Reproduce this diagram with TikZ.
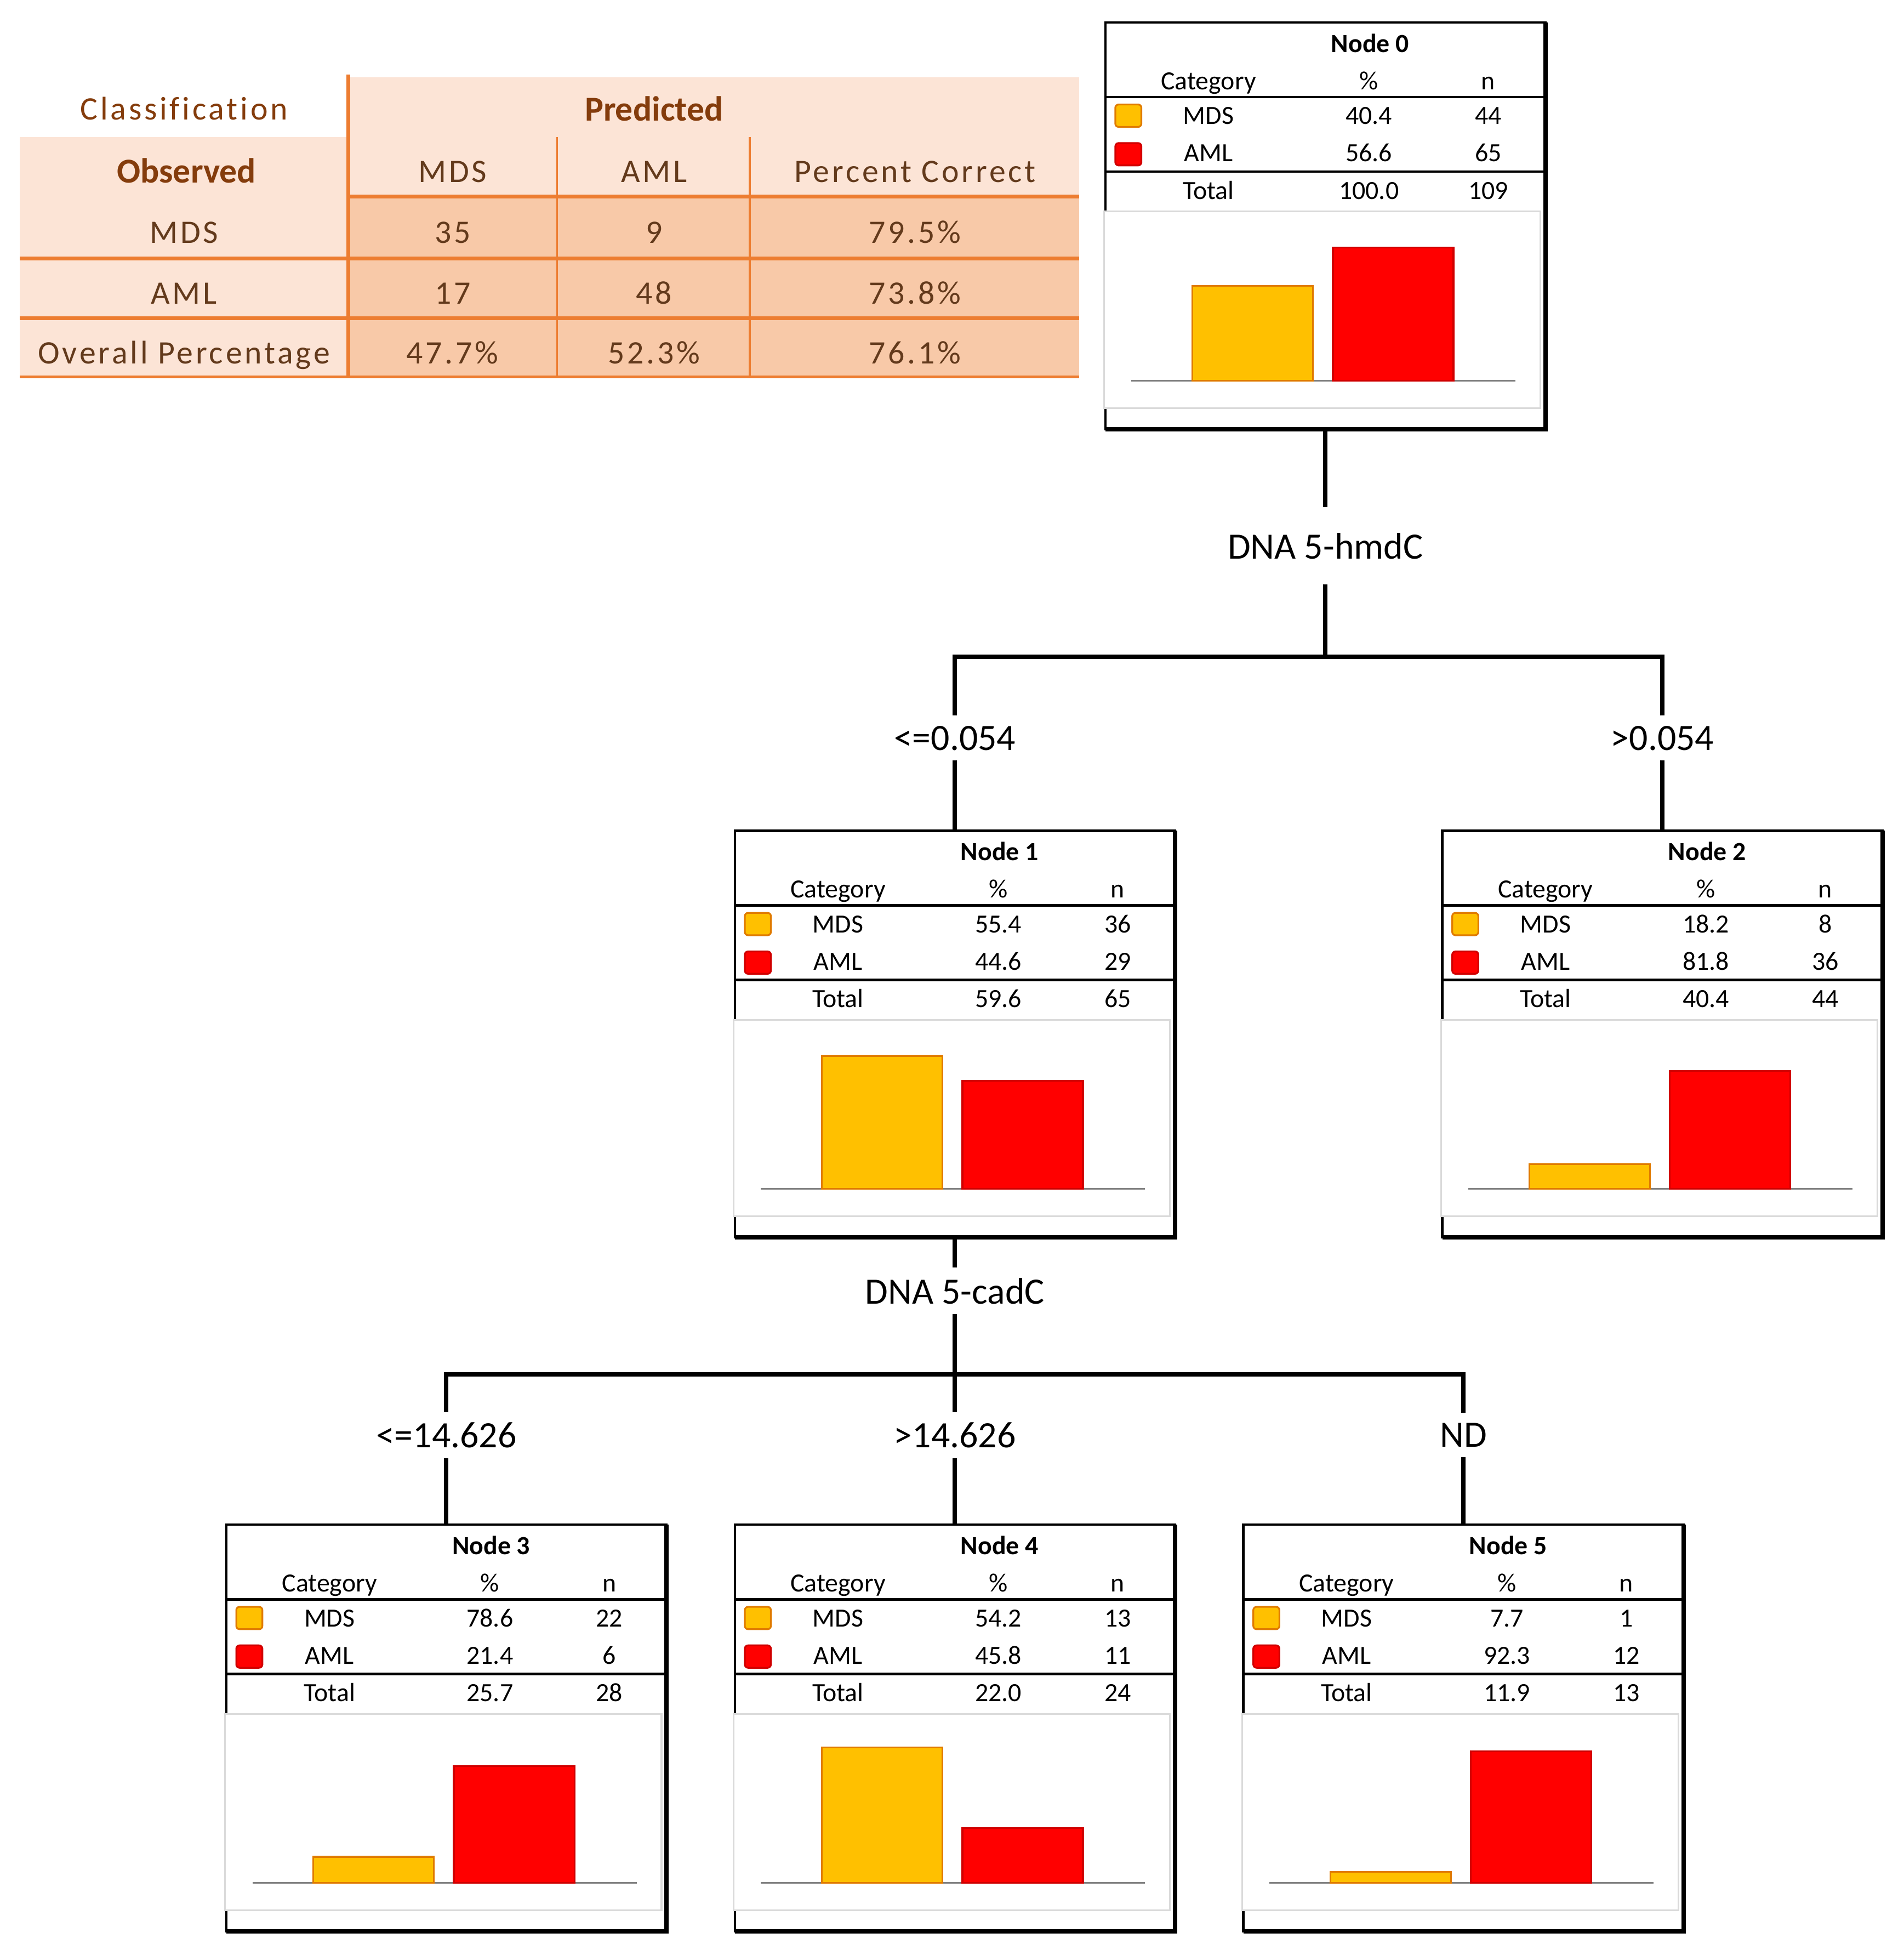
\documentclass[tikz,border=0pt]{standalone}
\usepackage{fontspec}
\setmainfont{Carlito}
\newfontfamily\tabfont[LetterSpace=8, Ligatures=NoCommon]{Carlito}
\usepackage{tikz}

\definecolor{mdsfill}{HTML}{FFC000}
\definecolor{mdsedge}{HTML}{E07B00}
\definecolor{amlfill}{HTML}{FF0000}
\definecolor{amledge}{HTML}{D00000}
\definecolor{peachlight}{HTML}{FCE4D6}
\definecolor{peachdark}{HTML}{F8C9A8}
\definecolor{tabline}{HTML}{ED7D31}
\definecolor{headbrown}{HTML}{843C0C}
\definecolor{textbrown}{HTML}{633A1C}
\definecolor{panelgray}{HTML}{DADADA}

\tikzset{
  treebox/.style={draw, line width=1.1pt, fill=white, minimum width=7.08cm,
    minimum height=6.54cm, inner sep=0pt, outer sep=0pt},
  nodetxt/.style={font=\fontsize{12}{14}\selectfont, anchor=base, inner sep=0pt},
  nodetitle/.style={nodetxt, font=\fontsize{12}{14}\selectfont\bfseries},
  splitlabel/.style={font=\fontsize{17}{20}\selectfont, inner xsep=2pt, inner ysep=4.5pt},
  link/.style={line width=2pt},
  tabcell/.style={font=\tabfont\fontsize{15}{18}\selectfont, text=textbrown,
    anchor=base, inner sep=0pt},
  tabhead/.style={font=\bfseries\fontsize{16}{19}\selectfont, text=headbrown,
    anchor=base, inner sep=0pt},
  mdsbar/.style={fill=mdsfill, draw=mdsedge, line width=0.8pt},
  amlbar/.style={fill=amlfill, draw=amledge, line width=0.8pt},
}

% table of one tree node: name, title, MDS %, n, AML %, n, total %, n
\newcommand{\treestats}[8]{%
  \begin{scope}[shift={(#1.north west)}]
    \node[nodetitle] (#1-title) at (213,24) {#2};
    \node[nodetxt] (#1-cat) at (83,54) {Category};
    \node[nodetxt] (#1-pct) at (212,54) {\%};
    \node[nodetxt] (#1-n) at (308,54) {n};
    \draw[line width=1.1pt] (0,60) -- (354,60) (0,120) -- (354,120);
    % MDS row
    \draw[mdsbar, rounded corners=1.5pt] (8,66) rectangle (29,84);
    \node[nodetxt] (#1-mds) at (83,82) {MDS};
    \node[nodetxt] (#1-mdsp) at (212,82) {#3};
    \node[nodetxt] (#1-mdsn) at (308,82) {#4};
    % AML row
    \draw[amlbar, rounded corners=1.5pt] (8,97) rectangle (29,115);
    \node[nodetxt] (#1-aml) at (83,112) {AML};
    \node[nodetxt] (#1-amlp) at (212,112) {#5};
    \node[nodetxt] (#1-amln) at (308,112) {#6};
    % total row
    \node[nodetxt] (#1-tot) at (83,142) {Total};
    \node[nodetxt] (#1-totp) at (212,142) {#7};
    \node[nodetxt] (#1-totn) at (308,142) {#8};
  \end{scope}}

% bar chart of one tree node: name, MDS bar height, AML bar height
\newcommand{\treebars}[3]{%
  \begin{scope}[shift={(#1.north west)}]
    \draw[panelgray, fill=white, line width=0.8pt] (-1,152) rectangle (350,310);
    \draw[gray, line width=0.8pt] (21,288) -- (330,288);
    \draw[mdsbar] (70,288) rectangle (167,{288-#2});
    \draw[amlbar] (183,288) rectangle (280,{288-#3});
    \draw[line width=2pt] (354,0) -- (354,327) -- (0,327);
  \end{scope}}

\begin{document}
\begin{tikzpicture}[x=0.02cm, y=-0.02cm]
  \fill[white] (0,0) rectangle (1531,1568);

  % Classification table
  \fill[peachlight] (280,62) rectangle (868,158);
  \fill[peachlight] (16,110) rectangle (280,303);
  \fill[peachdark] (280,158) rectangle (868,303);
  \draw[tabline, line width=1.8pt] (280,60) -- (280,303);
  \draw[tabline, line width=0.9pt] (448,110) -- (448,303) (603,110) -- (603,303);
  \draw[tabline, line width=1.8pt] (280,158) -- (868,158);
  \draw[tabline, line width=1.8pt] (16,208) -- (868,208) (16,256) -- (868,256);
  \draw[tabline, line width=1.1pt] (16,303) -- (868,303);

  \node[tabcell, text=headbrown] (tcls) at (148,96.5) {Classification};
  \node[tabhead] (tpred) at (526,97) {Predicted};
  \node[tabhead] (tobs) at (150,147) {Observed};
  \node[tabcell] (tmds) at (364,146.5) {MDS};
  \node[tabcell] (taml) at (526,146.5) {AML};
  \node[tabcell] (tpc) at (736,146.5) {Percent Correct};
  \foreach \rname/\ry/\rlab/\va/\vb/\vc in {
      rmds/187/MDS/35/9/79.5\%,
      raml/236/AML/17/48/73.8\%,
      rall/284/Overall Percentage/47.7\%/52.3\%/76.1\%}{
    \node[tabcell] (\rname-lab) at (148,{\ry+8.5}) {\rlab};
    \node[tabcell] (\rname-mds) at (364,{\ry+8.5}) {\va};
    \node[tabcell] (\rname-aml) at (526,{\ry+8.5}) {\vb};
    \node[tabcell] (\rname-pc) at (736,{\ry+8.5}) {\vc};
  }

  % Tree nodes
  \node[treebox] (n0) at (1066,181.5) {};
  \node[treebox] (n1) at (768,831.5) {};
  \node[treebox] (n2) at (1337,831.5) {};
  \node[treebox] (n3) at (359,1389.5) {};
  \node[treebox] (n4) at (768,1389.5) {};
  \node[treebox] (n5) at (1177,1389.5) {};

  \treestats{n0}{Node 0}{40.4}{44}{56.6}{65}{100.0}{109}
  \treebars{n0}{76}{107}
  \treestats{n1}{Node 1}{55.4}{36}{44.6}{29}{59.6}{65}
  \treebars{n1}{107}{87}
  \treestats{n2}{Node 2}{18.2}{8}{81.8}{36}{40.4}{44}
  \treebars{n2}{20}{95}
  \treestats{n3}{Node 3}{78.6}{22}{21.4}{6}{25.7}{28}
  \treebars{n3}{21}{94}
  \treestats{n4}{Node 4}{54.2}{13}{45.8}{11}{22.0}{24}
  \treebars{n4}{109}{44}
  \treestats{n5}{Node 5}{7.7}{1}{92.3}{12}{11.9}{13}
  \treebars{n5}{9}{106}

  % Split variables and branch labels
  \node[splitlabel, inner ysep=11.5pt] (s0) at (1066,439) {DNA 5-hmdC};
  \coordinate (j0) at (1066,528);
  \node[splitlabel] (b1) at (768,593.5) {<=0.054};
  \node[splitlabel] (b2) at (1337,593.5) {>0.054};
  \node[splitlabel] (s1) at (768,1038) {DNA 5-cadC};
  \coordinate (j1) at (768,1105);
  \node[splitlabel] (b3) at (359,1154) {<=14.626};
  \node[splitlabel] (b4) at (768,1154) {>14.626};
  \node[splitlabel] (b5) at (1177,1154) {ND};

  % Connectors
  \draw[link] (n0) -- (s0);
  \draw[link] (s0) -- (j0);
  \draw[link] (j0) -| (b1);
  \draw[link] (j0) -| (b2);
  \draw[link] (b1) -- (n1);
  \draw[link] (b2) -- (n2);
  \draw[link] (n1) -- (s1);
  \draw[link] (s1) -- (j1);
  \draw[link] (j1) -| (b3);
  \draw[link] (j1) -- (b4);
  \draw[link] (j1) -| (b5);
  \draw[link] (b3) -- (n3);
  \draw[link] (b4) -- (n4);
  \draw[link] (b5) -- (n5);
\end{tikzpicture}
\end{document}
